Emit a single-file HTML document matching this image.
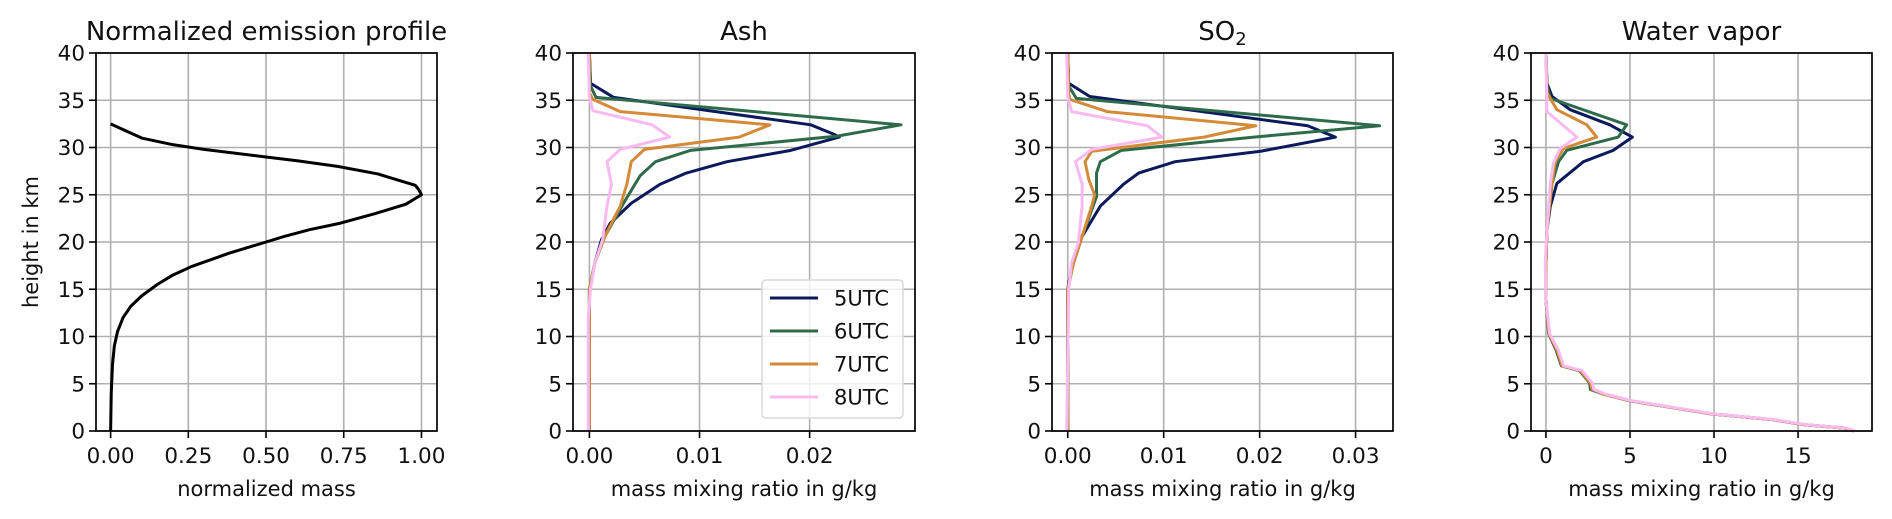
<!DOCTYPE html>
<html><head><meta charset="utf-8">
<style>
html,body{margin:0;padding:0;background:#fff;}
svg{display:block;font-family:"DejaVu Sans","Liberation Sans",sans-serif;}
</style></head>
<body>
<svg id="fig" width="1892" height="519" viewBox="0 0 1892 519" xmlns="http://www.w3.org/2000/svg"></svg>
<script>
// ---------- data ----------
const heightTicks = [0,5,10,15,20,25,30,35,40];
const heightTickLabels = ["0","5","10","15","20","25","30","35","40"];
const seriesNames = ["5UTC","6UTC","7UTC","8UTC"];
const seriesColors = ["#0b1a5c","#2e6b4a","#d48a36","#f9baf0"];

const emisH = [0,4,7,9,10.5,12,13.2,14.3,15.5,16.5,17.4,18.8,20,20.6,21.3,22,23,24,24.6,25,25.6,26,27.2,28,28.6,29,29.8,30.3,31,32.5];
const emisV = [0,0.002,0.006,0.012,0.022,0.04,0.065,0.1,0.15,0.2,0.26,0.38,0.5,0.56,0.64,0.74,0.85,0.95,0.98,1.0,0.99,0.98,0.86,0.73,0.6,0.5,0.3,0.2,0.1,0];
const emisXTicks = [0,0.25,0.5,0.75,1.0];
const emisXTickLabels = ["0.00","0.25","0.50","0.75","1.00"];

const ash5H = [0,15,17.8,20.25,22.0,24.1,26.1,27.3,28.5,29.7,31.1,31.4,32.4,35.3,36.8,40];
const ash5V = [0,0,0.0005,0.0011,0.0019,0.0038,0.0064,0.0088,0.0125,0.0183,0.0227,0.0222,0.0201,0.0022,0.0001,0];
const ash6H = [0,15,17.8,20.6,24.1,27,28.5,29.7,31.2,32.4,35.3,36.5,40];
const ash6V = [0,0,0.0005,0.0014,0.0031,0.0046,0.006,0.0092,0.0225,0.0283,0.0006,0.0001,0];
const ash7H = [0,15,17.8,20.6,23.8,26.1,28.5,29.8,31.1,32.4,33.8,35.1,35.8,40];
const ash7V = [0,0,0.0005,0.0014,0.0028,0.0034,0.0038,0.005,0.0136,0.0164,0.0028,0.0003,0,0];
const ash8H = [0,12,15,17.8,20.25,23.8,26.1,28.5,29.8,31.1,32.4,33.9,35.4,40];
const ash8V = [-0.0001,-0.0001,0.0001,0.0005,0.0012,0.0016,0.002,0.0016,0.0028,0.0073,0.0057,0.0003,0,-0.0001];
const ashXTicks = [0,0.01,0.02];
const ashXTickLabels = ["0.00","0.01","0.02"];

const so25H = [0,15,15.7,17.8,20.6,23.8,26.1,27.3,28.5,29.6,31.1,32.3,35.4,36.8,40];
const so25V = [0,0,0.0001,0.0006,0.0015,0.0034,0.0058,0.0074,0.0112,0.0201,0.0279,0.025,0.0023,0.0001,0];
const so26H = [0,15,17.8,20.6,24.8,27.3,28.5,29.7,31.1,32.3,35.2,36.5,40];
const so26V = [0,0,0.0006,0.0015,0.003,0.003,0.0034,0.0056,0.0194,0.0325,0.0009,0.0001,0];
const so27H = [0,15,17.8,20.6,23.8,25,26.6,28.5,29.6,31.1,32.3,33.8,35.1,35.8,40];
const so27V = [0,0,0.0006,0.0015,0.0025,0.0028,0.0022,0.0018,0.0025,0.0142,0.0196,0.0041,0.0002,0.0001,0];
const so28H = [0,15,17.8,19.9,23.8,26.1,28.5,29.8,31.1,32.3,33.8,35.4,40];
const so28V = [-0.0001,0.0001,0.0004,0.0011,0.0015,0.0015,0.0008,0.0025,0.0098,0.0083,0.0004,0,-0.0001];
const so2XTicks = [0,0.01,0.02,0.03];
const so2XTickLabels = ["0.00","0.01","0.02","0.03"];

const wv5H = [0,0.3,0.66,1.2,1.8,3.2,3.9,4.4,5.1,6.4,6.9,8.5,10.3,13.9,17.8,21.3,23.8,26.2,28.5,29.7,31.1,32.4,34.0,35.4,36.8,40];
const wv5V = [18.3,17.8,15.4,13.5,9.9,5.0,3.43,2.65,2.6,2.0,0.92,0.62,0.16,0,0,0.06,0.26,0.65,2.23,4.0,5.14,3.8,1.44,0.36,0.06,0];
const wv6H = [0,0.3,0.66,1.2,1.8,3.2,3.9,4.4,5.1,6.4,6.9,8.5,10.3,13.9,17.8,21.3,26.2,28.5,29.7,31.1,32.4,35.2,36.5,40];
const wv6V = [18.3,17.8,15.4,13.5,9.9,5.0,3.43,2.67,2.6,2.0,0.94,0.64,0.17,0,0,0.06,0.36,0.75,1.24,4.3,4.8,0.26,0.06,0];
const wv7H = [0,0.3,0.66,1.2,1.8,3.2,3.9,4.4,5.1,6.4,6.9,8.5,10.3,13.9,17.8,21.3,26.2,28.5,29.9,31.1,32.4,34.0,35.8,40];
const wv7V = [18.3,17.8,15.4,13.5,9.9,5.0,3.43,2.74,2.64,2.05,0.96,0.67,0.18,0,0,0.06,0.36,0.55,1.05,3.02,2.43,0.65,0.06,0];
const wv8H = [0,0.3,0.66,1.2,1.8,3.2,3.9,4.4,5.1,6.4,6.9,8.5,10.3,13.9,17.8,21.3,26.2,28.4,29.9,31.1,33.8,40];
const wv8V = [18.4,17.9,15.5,13.6,10.0,5.1,3.55,2.85,2.75,2.15,1.05,0.75,0.22,0,-0.04,0.06,0.26,0.45,0.85,1.84,0.06,0];
const wvXTicks = [0,5,10,15];
const wvXTickLabels = ["0","5","10","15"];

// ---------- drawing ----------
const NS = "http://www.w3.org/2000/svg";
const fig = document.getElementById("fig");
function mk(tag, attrs, parent){
  const e = document.createElementNS(NS, tag);
  for (const k in attrs) e.setAttribute(k, attrs[k]);
  (parent||fig).appendChild(e);
  return e;
}
const TOP = 53, BOT = 431, YMIN = 0, YMAX = 40;
function yScale(h){ return BOT - (h - YMIN) / (YMAX - YMIN) * (BOT - TOP); }

function panel(cfg){
  const g = mk("g", {});
  
  
  const xs = v => cfg.left + (v - cfg.xmin) / (cfg.xmax - cfg.xmin) * (cfg.right - cfg.left);
  cfg.xticks.forEach((t,i) => {
    const x = xs(t);
    const gl = mk("line", {x1:x, x2:x, y1:TOP, y2:BOT, stroke:"#b0b0b0", "stroke-width":1.6}, g);
    
    
    const tk = mk("line", {x1:x, x2:x, y1:BOT, y2:BOT+7, stroke:"#000", "stroke-width":1.6}, g);
    
    
    const tl = mk("text", {x:x, y:BOT+32, "font-size":21.5, "text-anchor":"middle", fill:"#111"}, g);
    tl.textContent = cfg.xlabels[i];
    
    
  });
  heightTicks.forEach((t,i) => {
    const y = yScale(t);
    const gl = mk("line", {x1:cfg.left, x2:cfg.right, y1:y, y2:y, stroke:"#b0b0b0", "stroke-width":1.6}, g);
    
    
    const tk = mk("line", {x1:cfg.left-7, x2:cfg.left, y1:y, y2:y, stroke:"#000", "stroke-width":1.6}, g);
    
    
    const tl = mk("text", {x:cfg.left-11, y:y+7.5, "font-size":21.5, "text-anchor":"end", fill:"#111"}, g);
    tl.textContent = heightTickLabels[i];
    
    
  });
  cfg.series.forEach(s => {
    const pts = s.h.map((h,i) => xs(s.v[i]).toFixed(2) + "," + yScale(h).toFixed(2)).join(" ");
    const pl = mk("polyline", {points:pts, fill:"none", stroke:s.color, "stroke-width":3, "stroke-linejoin":"round"}, g);
    
    
  });
  const fr = mk("rect", {x:cfg.left, y:TOP, width:cfg.right-cfg.left, height:BOT-TOP, fill:"none", stroke:"#000", "stroke-width":1.7}, g);
  
  
  const tt = mk("text", {x:(cfg.left+cfg.right)/2, y:40, "font-size":26, "text-anchor":"middle", fill:"#111"}, g);
  
  
  if (cfg.sub) {
    tt.textContent = "SO";
    const ts = mk("tspan", {"font-size":18, dy:5}, tt);
    ts.textContent = "2";
  } else tt.textContent = cfg.title;
  const xl = mk("text", {x:(cfg.left+cfg.right)/2, y:496, "font-size":21, "text-anchor":"middle", fill:"#111"}, g);
  xl.textContent = cfg.xtitle;
  
  
  return g;
}

panel({name:"emission", title:"Normalized emission profile", xtitle:"normalized mass",
  left:96, right:437, xmin:-0.047, xmax:1.05, xticks:emisXTicks, xlabels:emisXTickLabels,
  series:[{name:"emission-line", h:emisH, v:emisV, color:"#000"}]});
panel({name:"ash", title:"Ash", xtitle:"mass mixing ratio in g/kg",
  left:573, right:915, xmin:-0.00149, xmax:0.02957, xticks:ashXTicks, xlabels:ashXTickLabels,
  series:[{name:"ash-5utc-line",h:ash5H,v:ash5V,color:seriesColors[0]},
          {name:"ash-6utc-line",h:ash6H,v:ash6V,color:seriesColors[1]},
          {name:"ash-7utc-line",h:ash7H,v:ash7V,color:seriesColors[2]},
          {name:"ash-8utc-line",h:ash8H,v:ash8V,color:seriesColors[3]}]});
panel({name:"so2", sub:true, xtitle:"mass mixing ratio in g/kg",
  left:1052, right:1393, xmin:-0.00164, xmax:0.0339, xticks:so2XTicks, xlabels:so2XTickLabels,
  series:[{name:"so2-5utc-line",h:so25H,v:so25V,color:seriesColors[0]},
          {name:"so2-6utc-line",h:so26H,v:so26V,color:seriesColors[1]},
          {name:"so2-7utc-line",h:so27H,v:so27V,color:seriesColors[2]},
          {name:"so2-8utc-line",h:so28H,v:so28V,color:seriesColors[3]}]});
panel({name:"water-vapor", title:"Water vapor", xtitle:"mass mixing ratio in g/kg",
  left:1531, right:1872, xmin:-0.89, xmax:19.4, xticks:wvXTicks, xlabels:wvXTickLabels,
  series:[{name:"wv-5utc-line",h:wv5H,v:wv5V,color:seriesColors[0]},
          {name:"wv-6utc-line",h:wv6H,v:wv6V,color:seriesColors[1]},
          {name:"wv-7utc-line",h:wv7H,v:wv7V,color:seriesColors[2]},
          {name:"wv-8utc-line",h:wv8H,v:wv8V,color:seriesColors[3]}]});

const yt = mk("text", {x:0, y:0, "font-size":21, "text-anchor":"middle", fill:"#111", transform:"translate(38,242) rotate(-90)"});
yt.textContent = "height in km";



const lg = mk("g", {});


const lbox = mk("rect", {x:762, y:280, width:141, height:138, rx:4, fill:"rgba(255,255,255,0.8)", stroke:"#d8d8d8", "stroke-width":1.5}, lg);


seriesNames.forEach((n,i) => {
  const y = 298 + i*33;
  const ln = mk("line", {x1:770, x2:818, y1:y, y2:y, stroke:seriesColors[i], "stroke-width":3}, lg);
  
  
  const tx = mk("text", {x:834, y:y+7.5, "font-size":21, fill:"#111"}, lg);
  tx.textContent = n;
  
  
});
</script>
</body></html>
